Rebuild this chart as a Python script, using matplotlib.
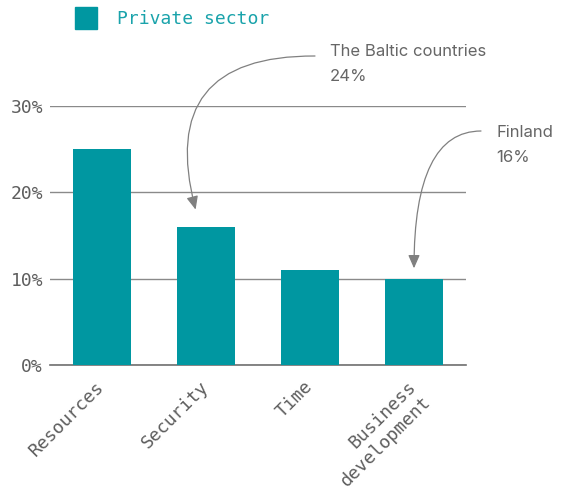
import matplotlib
matplotlib.use("Agg")
import matplotlib.pyplot as plt
from matplotlib.transforms import ScaledTranslation

categories = ["Resources", "Security", "Time", "Business\ndevelopment"]
private_sector = [25, 16, 11, 10]
yticks = [0, 10, 20, 30]
ytick_labels = ["0%", "10%", "20%", "30%"]
series_name = "Private sector"
notes = ["The Baltic countries\n24%", "Finland\n16%"]
note_targets = [(0.9, 18.0), (3.0, 11.2)]

TEAL = "#0097a1"
GRAY_TXT = "#5e5e5e"
MONO = "DejaVu Sans Mono"
W, H = 565, 494

fig = plt.figure(figsize=(W / 100, H / 100), dpi=100)
ax = fig.add_axes([50 / W, 129 / H, 416 / W, 259 / H])

x = range(len(categories))
ax.bar(x, private_sector, width=0.56, color=TEAL, zorder=3)

ax.set_xlim(-0.5, len(categories) - 0.5)
ax.set_ylim(0, 30)
ax.set_yticks(yticks)
ax.set_yticklabels(ytick_labels, family=MONO, fontsize=13, color=GRAY_TXT)
ax.tick_params(axis="y", length=0, pad=5)
ax.grid(axis="y", color="#8a8a8a", linewidth=1.0, zorder=1)
for s in ["top", "right", "left"]:
    ax.spines[s].set_visible(False)
ax.spines["bottom"].set_color("#707070")
ax.spines["bottom"].set_linewidth(1.2)

ax.set_xticks(list(x))
ax.set_xticklabels(categories, family=MONO, fontsize=13, color=GRAY_TXT,
                   rotation=45, ha="right", rotation_mode="anchor")
ax.tick_params(axis="x", length=0, pad=9)
shift = ScaledTranslation(-5 / 72, 0, fig.dpi_scale_trans)
for lbl in ax.get_xticklabels():
    lbl.set_transform(lbl.get_transform() + shift)

# legend swatch and label
fig.patches.append(plt.Rectangle((75 / W, 1 - 29 / H), 22 / W, 22 / H,
                                 transform=fig.transFigure, color=TEAL))
fig.text(117 / W, 1 - 19 / H, series_name, family=MONO, fontsize=13,
         color="#1aa3ab", va="center", ha="left")

# callouts
text_pos = [(330, 64), (496, 145)]
arrow_start = [(315, 56), (481, 131)]
curves = ["arc3,rad=0.65", "angle3,angleA=180,angleB=90"]
for label, (xv, yv), (tx, ty), (sx, sy), cs in zip(notes, note_targets, text_pos,
                                                   arrow_start, curves):
    fig.text(tx / W, 1 - ty / H, label, family="Inter", fontsize=12,
             color="#666666", va="center", ha="left", linespacing=1.8)
    ax.annotate("", xy=(xv, yv),
                xytext=(sx / W, 1 - sy / H), textcoords="figure fraction",
                arrowprops=dict(arrowstyle="-|>,head_length=0.8,head_width=0.35",
                                color="#808080", lw=0.9,
                                connectionstyle=cs,
                                shrinkA=0, shrinkB=0),
                annotation_clip=False)

fig.savefig("out.png", dpi=100)
